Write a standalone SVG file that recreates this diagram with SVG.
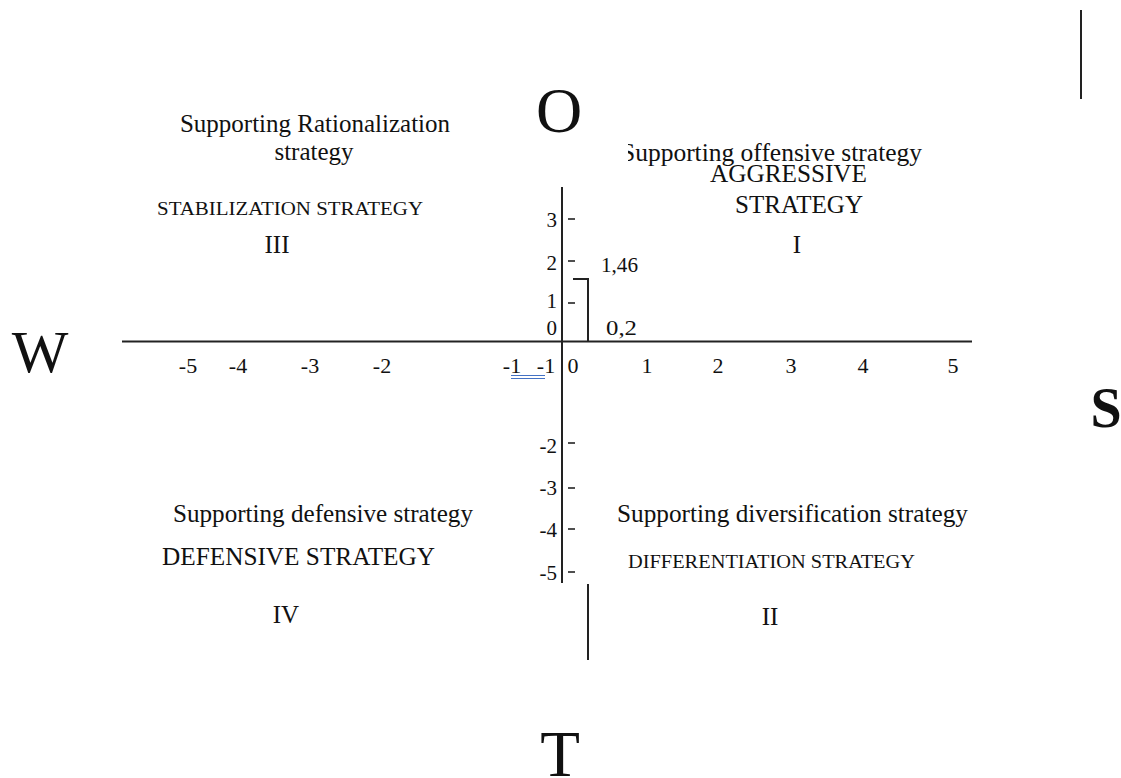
<svg xmlns="http://www.w3.org/2000/svg" width="1121" height="778" viewBox="0 0 1121 778">
<style>
text{font-family:"Liberation Serif","Times New Roman",serif;fill:#111}
.lbl{font-size:25px}
.caps{font-size:19px}
.num{font-size:21px;text-anchor:end}
.xn{font-size:22px;text-anchor:middle}
.mid{text-anchor:middle}
.ax{stroke:#222;stroke-width:2;fill:none}
.tk{stroke:#222;stroke-width:1.6}
.big{text-anchor:middle}
</style>
<defs>
<clipPath id="clipOff"><rect x="628" y="130" width="400" height="50"/></clipPath>
</defs>
<rect width="1121" height="778" fill="#fff"/>
<g id="connectors">
<line class="ax" x1="122" y1="341.5" x2="972" y2="341.5"/>
<line class="ax" x1="562" y1="187" x2="562" y2="583"/>
<line class="ax" x1="588" y1="584" x2="588" y2="660"/>
<line class="ax" x1="1081" y1="10" x2="1081" y2="99"/>
<polyline class="ax" points="573,279 588,279 588,341"/>
<g id="ticks">
<line class="tk" x1="568" y1="219" x2="575" y2="219"/>
<line class="tk" x1="568" y1="261" x2="575" y2="261"/>
<line class="tk" x1="568" y1="303" x2="575" y2="303"/>
<line class="tk" x1="568" y1="443" x2="575" y2="443"/>
<line class="tk" x1="568" y1="488" x2="575" y2="488"/>
<line class="tk" x1="568" y1="529" x2="575" y2="529"/>
<line class="tk" x1="568" y1="572" x2="575" y2="572"/>
</g>
<g id="underline" stroke="#4472c4" stroke-width="1.2">
<line x1="511" y1="375.5" x2="545" y2="375.5"/>
<line x1="511" y1="378.5" x2="545" y2="378.5"/>
</g>
</g>
<g id="axis-labels">
<text class="num" x="557" y="227">3</text>
<text class="num" x="557" y="270">2</text>
<text class="num" x="557" y="308">1</text>
<text class="num" x="557" y="335">0</text>
<text class="num" x="557" y="453">-2</text>
<text class="num" x="557" y="495">-3</text>
<text class="num" x="557" y="537">-4</text>
<text class="num" x="557" y="580">-5</text>
<text class="xn" x="188" y="373">-5</text>
<text class="xn" x="238" y="373">-4</text>
<text class="xn" x="310" y="373">-3</text>
<text class="xn" x="382" y="373">-2</text>
<text class="xn" x="512" y="373">-1</text>
<text class="xn" x="546" y="373">-1</text>
<text class="xn" x="573" y="373">0</text>
<text class="xn" x="647" y="373">1</text>
<text class="xn" x="718" y="373">2</text>
<text class="xn" x="791" y="373">3</text>
<text class="xn" x="863" y="373">4</text>
<text class="xn" x="953" y="373">5</text>
<text x="601" y="272" font-size="21" textLength="37" lengthAdjust="spacingAndGlyphs">1,46</text>
<text x="606" y="335" font-size="22" textLength="31" lengthAdjust="spacingAndGlyphs">0,2</text>
</g>
<g id="q3">
<text class="lbl mid" x="315" y="132">Supporting Rationalization</text>
<text class="lbl mid" x="314" y="160">strategy</text>
<text class="caps" x="157" y="215" textLength="266" lengthAdjust="spacingAndGlyphs">STABILIZATION STRATEGY</text>
<text class="lbl mid" x="277" y="253">III</text>
</g>
<g id="q1">
<text class="lbl" x="621" y="161" textLength="301" lengthAdjust="spacingAndGlyphs" clip-path="url(#clipOff)">Supporting offensive strategy</text>
<text class="lbl" x="710" y="182" textLength="157" lengthAdjust="spacingAndGlyphs">AGGRESSIVE</text>
<text class="lbl" x="735" y="213" textLength="128" lengthAdjust="spacingAndGlyphs">STRATEGY</text>
<text class="lbl mid" x="797" y="253">I</text>
</g>
<g id="q4">
<text class="lbl" x="173" y="522" textLength="300" lengthAdjust="spacingAndGlyphs">Supporting defensive strategy</text>
<text class="lbl" x="162" y="565" textLength="273" lengthAdjust="spacingAndGlyphs">DEFENSIVE STRATEGY</text>
<text class="lbl mid" x="286" y="623">IV</text>
</g>
<g id="q2">
<text class="lbl" x="617" y="522" textLength="351" lengthAdjust="spacingAndGlyphs">Supporting diversification strategy</text>
<text class="caps" x="628" y="568" textLength="287" lengthAdjust="spacingAndGlyphs">DIFFERENTIATION STRATEGY</text>
<text class="lbl mid" x="770" y="625">II</text>
</g>
<g id="swot">
<text class="big" x="559" y="132" font-size="64">O</text>
<text class="big" x="560" y="776" font-size="65">T</text>
<text class="big" x="40" y="372" font-size="60">W</text>
<text class="big" x="1106" y="427" font-size="56" font-weight="bold">S</text>
</g>
</svg>
